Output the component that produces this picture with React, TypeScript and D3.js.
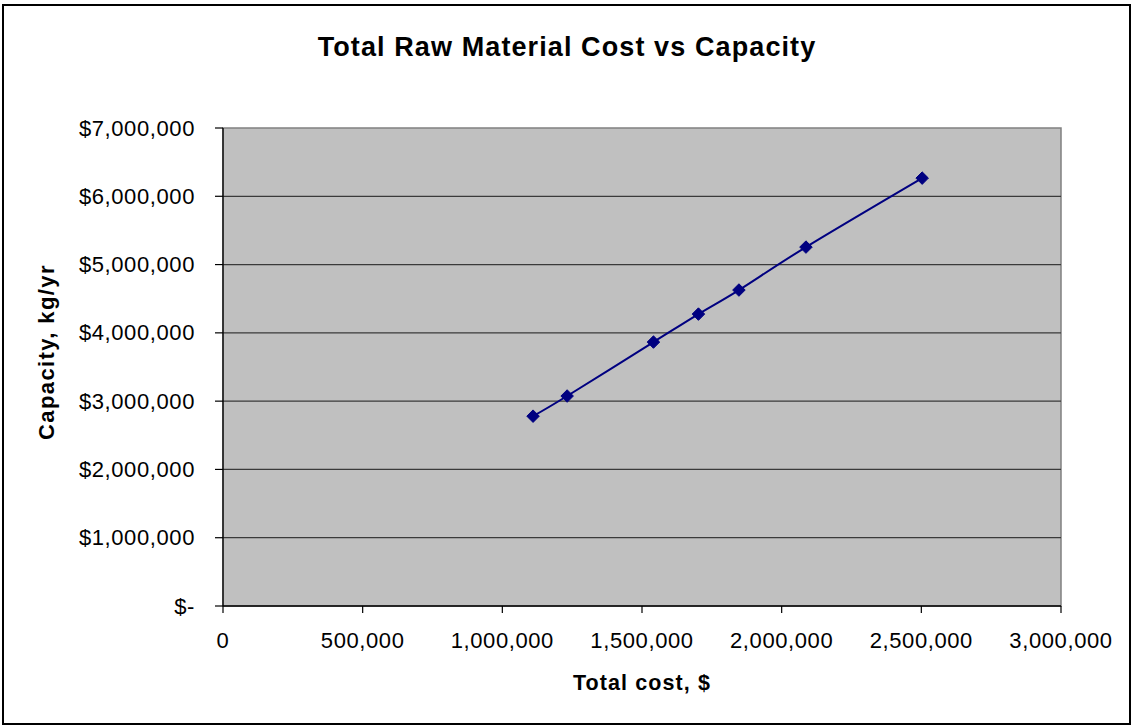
import React from "react";
import * as d3 from "d3";

const totalCost = [1110000, 1232000, 1541000, 1702000, 1847000, 2087000, 2503000];
const capacity = [2780000, 3075000, 3865000, 4275000, 4627000, 5256000, 6266000];
const xTicks = [0, 500000, 1000000, 1500000, 2000000, 2500000, 3000000];
const yTicks = [0, 1000000, 2000000, 3000000, 4000000, 5000000, 6000000, 7000000];

const W = 1133;
const H = 727;
const plot = { left: 223, right: 1061, top: 128, bottom: 606 };
const FONT = "Arial, 'Liberation Sans', Helvetica, sans-serif";

export default function App() {
  const x = d3.scaleLinear().domain([0, 3000000]).range([plot.left, plot.right]);
  const y = d3.scaleLinear().domain([0, 7000000]).range([plot.bottom, plot.top]);
  const pts = totalCost.map((c, i) => [c, capacity[i]] as [number, number]);
  const line = d3
    .line<[number, number]>()
    .x((d) => x(d[0]))
    .y((d) => y(d[1]))
    .curve(d3.curveCatmullRom.alpha(0));
  const fmtX = d3.format(",");
  const fmtY = (v: number) => (v === 0 ? "$-" : "$" + d3.format(",")(v));

  return (
    <svg
      width={W}
      height={H}
      style={{ position: "absolute", left: 0, top: 0, background: "#fff" }}
      fontFamily={FONT}
    >
      <rect x={3} y={5} width={1127} height={719} fill="#fff" stroke="#000" strokeWidth={2} />
      <text
        x={567}
        y={56}
        textAnchor="middle"
        fontSize={27}
        fontWeight="bold"
        letterSpacing={1.1}
      >
        Total Raw Material Cost vs Capacity
      </text>
      <rect
        x={plot.left}
        y={plot.top}
        width={plot.right - plot.left}
        height={plot.bottom - plot.top}
        fill="#C0C0C0"
        stroke="#808080"
        strokeWidth={1.5}
      />
      {yTicks
        .filter((t) => t > 0 && t < 7000000)
        .map((t) => (
          <line
            key={"g" + t}
            x1={plot.left}
            x2={plot.right}
            y1={y(t)}
            y2={y(t)}
            stroke="#3a3a3a"
            strokeWidth={1.3}
          />
        ))}
      <line x1={plot.left} x2={plot.left} y1={plot.top} y2={plot.bottom} stroke="#000" strokeWidth={1.3} />
      <line x1={plot.left} x2={plot.right} y1={plot.bottom} y2={plot.bottom} stroke="#000" strokeWidth={1.3} />
      {yTicks.map((t) => (
        <g key={"y" + t}>
          <line x1={plot.left - 8} x2={plot.left} y1={y(t)} y2={y(t)} stroke="#000" strokeWidth={1.2} />
          <text
            x={195}
            y={y(t) + 7.5}
            textAnchor="end"
            fontSize={22}
            letterSpacing={0.6}
          >
            {fmtY(t)}
          </text>
        </g>
      ))}
      {xTicks.map((t) => (
        <g key={"x" + t}>
          <line x1={x(t)} x2={x(t)} y1={plot.bottom} y2={plot.bottom + 7} stroke="#000" strokeWidth={1.2} />
          <text
            x={x(t)}
            y={648}
            textAnchor="middle"
            fontSize={22}
            letterSpacing={0.6}
          >
            {fmtX(t)}
          </text>
        </g>
      ))}
      <path d={line(pts) || ""} fill="none" stroke="#000080" strokeWidth={2} />
      {pts.map((p, i) => (
        <path
          key={"m" + i}
          d={d3.symbol().type(d3.symbolDiamond2).size(100)() || ""}
          transform={`translate(${x(p[0])},${y(p[1])})`}
          fill="#000080"
          stroke="#000080"
          strokeWidth={1}
        />
      ))}
      <text x={642} y={690} textAnchor="middle" fontSize={21.5} fontWeight="bold" letterSpacing={1.1}>
        Total cost, $
      </text>
      <text
        transform="translate(54,352) rotate(-90)"
        textAnchor="middle"
        fontSize={22}
        fontWeight="bold"
        letterSpacing={1.4}
      >
        Capacity, kg/yr
      </text>
    </svg>
  );
}
